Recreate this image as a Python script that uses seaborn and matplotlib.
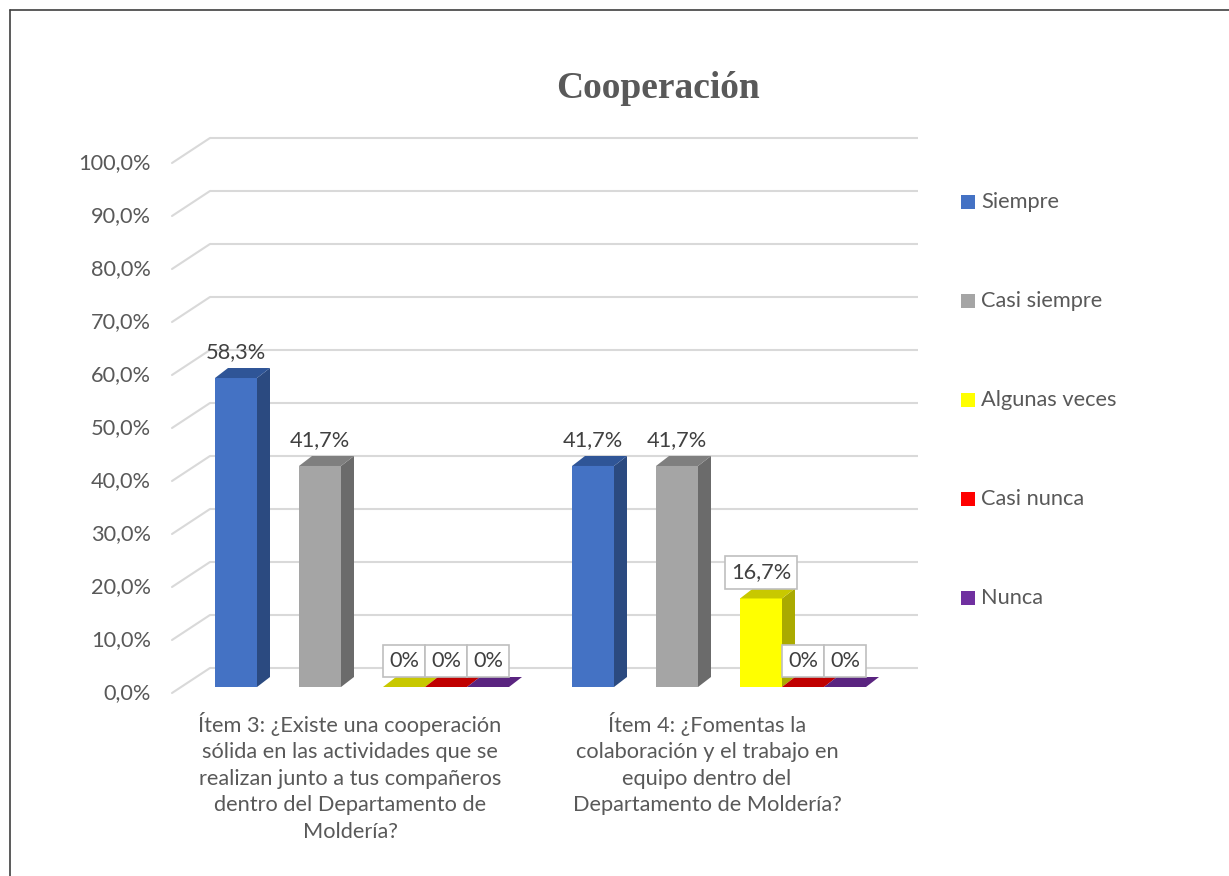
import matplotlib
matplotlib.use("Agg")
import pandas as pd
import seaborn as sns
import matplotlib.pyplot as plt
from matplotlib.patches import Polygon, Rectangle
from matplotlib.lines import Line2D
from matplotlib.colors import to_hex

# data
items = ["Ítem 3: ¿Existe una cooperación\nsólida en las actividades que se\nrealizan junto a tus compañeros\n"
         "dentro del Departamento de\nMoldería?",
         "Ítem 4: ¿Fomentas la\ncolaboración y el trabajo en\nequipo dentro del\nDepartamento de Moldería?"]
series = ["Siempre", "Casi siempre", "Algunas veces", "Casi nunca", "Nunca"]
item3_values = [58.3, 41.7, 0.0, 0.0, 0.0]
item4_values = [41.7, 41.7, 16.7, 0.0, 0.0]
y_ticks = [0, 10, 20, 30, 40, 50, 60, 70, 80, 90, 100]

# colours: front face, side face, top face
front = {"Siempre": "#4472C4", "Casi siempre": "#A5A5A5", "Algunas veces": "#FFFF00",
         "Casi nunca": "#FF0000", "Nunca": "#7030A0"}
side = {"Siempre": "#2B4A80", "Casi siempre": "#6B6B6B", "Algunas veces": "#AAAA00",
        "Casi nunca": "#A00000", "Nunca": "#4A1F6B"}
top = {"Siempre": "#2F5597", "Casi siempre": "#7F7F7F", "Algunas veces": "#C8C800",
       "Casi nunca": "#C00000", "Nunca": "#5A2480"}

# layout in pixels
W, H = 1229, 876
X0, PXU = 236, 42      # pixel of position 0, pixels per bar unit
Y0, PYU = 687, 5.3     # pixel of value 0, pixels per percent
SLOT = [0, 2, 4, 5, 6]  # bar slot of each series inside a group
GROUP_STEP = 8.5
DEPTH_X, DEPTH_Y = 13, 10
GREY_TXT = "#595959"
FS = 15.7


def px_x(px):
    return (px - X0) / PXU


def px_y(py):
    return (Y0 - py) / PYU


def fmt_pct(v):
    if v == 0:
        return "0%"
    return f"{v:.1f}%".replace(".", ",")


rows = []
for i, vals in enumerate([item3_values, item4_values]):
    for j, s in enumerate(series):
        rows.append({"item": i, "serie": s, "value": vals[j], "pos": i * GROUP_STEP + SLOT[j]})
df = pd.DataFrame(rows)

sns.set_style("white")
plt.rcParams["font.family"] = ["Lato", "DejaVu Sans"]

fig = plt.figure(figsize=(W / 100, H / 100), dpi=100)
ax = fig.add_axes([172 / W, 1 - 700 / H, (918 - 172) / W, 570 / H])
ax.patch.set_alpha(0)

sns.barplot(data=df, x="pos", y="value", hue="serie", hue_order=series, palette=front,
            native_scale=True, dodge=False, width=1.0, saturation=1, linewidth=0,
            errorbar=None, legend=False, ax=ax)

ax.set_xlim(px_x(172), px_x(918))
ax.set_ylim(px_y(700), px_y(130))
ax.axis("off")

# back wall grid and floor diagonals
for v in y_ticks:
    ax.plot([px_x(210), px_x(918)], [v + 19 / PYU] * 2, color="#D9D9D9", lw=1.5,
            zorder=0, clip_on=False, solid_capstyle="butt")
    ax.plot([px_x(172), px_x(210)], [v - 6 / PYU, v + 19 / PYU], color="#D9D9D9", lw=1.5,
            zorder=0, clip_on=False)
    ax.text(px_x(151), v - 6 / PYU, f"{v:.1f}%".replace(".", ","), ha="right", va="center",
            fontsize=FS, color=GREY_TXT)

# 3D faces and labels for each bar
col2serie = {to_hex(c): s for s, c in front.items()}
dx, dy = DEPTH_X / PXU, DEPTH_Y / PYU
bars = sorted(ax.patches, key=lambda p: p.get_x())
for k, p in enumerate(bars):
    s = col2serie[to_hex(p.get_facecolor())]
    x, w, h = p.get_x(), p.get_width(), p.get_height()
    z = 2 + k * 0.1
    p.set_zorder(z)
    ax.add_patch(Polygon([(x + w, 0), (x + w, h), (x + w + dx, h + dy), (x + w + dx, dy)],
                         closed=True, fc=side[s], ec="none", zorder=z + 0.03, clip_on=False))
    ax.add_patch(Polygon([(x, h), (x + w, h), (x + w + dx, h + dy), (x + dx, h + dy)],
                         closed=True, fc=top[s], ec="none", zorder=z + 0.05, clip_on=False))
    boxed = h < 30
    bbox = dict(boxstyle="square,pad=0.28", fc="white", ec="#BFBFBF", lw=1.2) if boxed else None
    ax.text(x + w / 2, h + 26 / PYU, fmt_pct(h), ha="center", va="center", fontsize=FS,
            color="#404040", bbox=bbox, zorder=10 + k * 0.1)

# category labels
for i, name in enumerate(items):
    pos = df.loc[df["item"] == i, "pos"]
    cx = (pos.min() + pos.max()) / 2 - 12 / PXU
    ax.text(cx, px_y(712), name, ha="center", va="top", fontsize=FS, color=GREY_TXT,
            linespacing=1.40, clip_on=False)

# title
fig.text(658 / W, 1 - 88 / H, "Cooperación", ha="center", va="center", fontsize=27,
         fontweight="bold", family="Liberation Serif", color=GREY_TXT)

# legend
for j, s in enumerate(series):
    yc = 202 + 99 * j
    fig.add_artist(Rectangle((961 / W, 1 - (yc + 7) / H), 14 / W, 14 / H,
                             transform=fig.transFigure, fc=front[s], ec="none"))
    fig.text(981 / W, 1 - yc / H, s, ha="left", va="center", fontsize=FS, color=GREY_TXT)

# outer chart border
fig.add_artist(Line2D([10 / W, 10 / W], [0, 1 - 10 / H], color="#404040", lw=1.2))
fig.add_artist(Line2D([10 / W, 1], [1 - 10 / H, 1 - 10 / H], color="#404040", lw=1.2))

fig.savefig("out.png", dpi=100, facecolor="white")
